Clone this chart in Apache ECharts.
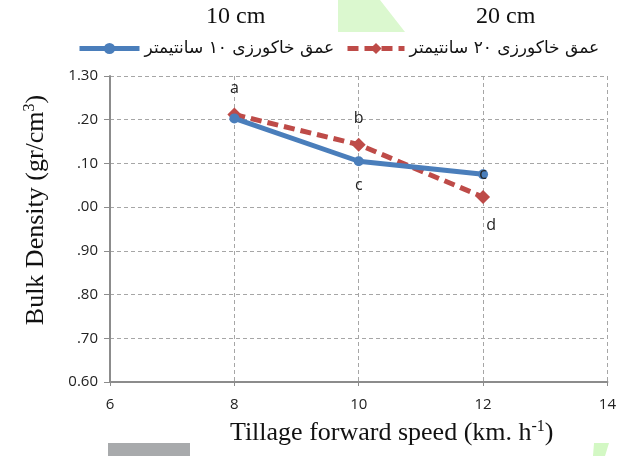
<!DOCTYPE html>
<html>
<head>
<meta charset="utf-8">
<script src="https://cdn.jsdelivr.net/npm/echarts@6/dist/echarts.min.js"></script>
<style>
  html, body { margin: 0; padding: 0; background: #fff; }
  #myChart { width: 619px; height: 456px; }
</style>
</head>
<body>
<div id="myChart"></div>
<script>
// speeds (km/h)
var speeds = [8, 10, 12];
// bulk density, depth 10 cm and 20 cm
var depth10 = [1.203, 1.105, 1.075];
var depth20 = [1.212, 1.143, 1.023];
// letters of the mean comparison
var letters10 = ["", "c", "c"];
var letters20 = ["a", "b", "d"];
var seriesNames = ["عمق خاکورزی ۱۰ سانتیمتر", "عمق خاکورزی ۲۰ سانتیمتر"];
// y tick labels as printed (cut off in the source)
var yTicks = [0.6, 0.7, 0.8, 0.9, 1.0, 1.1, 1.2, 1.3];
var yTickLabels = ["0.60", ".70", ".80", ".90", ".00", ".10", ".20", "1.30"];

var labelPos10 = [null, "bottom", "inside"];
var labelPos20 = ["top", "top", "bottom"];
var labelOff20 = [[0, -6], [0, -6], [8, 8]];
var labelOff10 = [[0, 0], [0, 6], [0, 0]];

function points(vals, letters, pos, off) {
  return vals.map(function (v, i) {
    return {
      value: [speeds[i], v],
      label: {
        show: letters[i] !== "",
        formatter: letters[i],
        position: pos[i] || "top",
        offset: off[i]
      }
    };
  });
}

var myChart = echarts.init(document.getElementById("myChart"));
var labelFont = { color: "#222", fontSize: 15, fontFamily: "Open Sans" };
var legendText = { fontSize: 17, color: "#111", fontFamily: "DejaVu Sans" };
var titleRich = {
  a: { fontSize: 26, fontFamily: "Liberation Serif", color: "#111" },
  s: { fontSize: 16, fontFamily: "Liberation Serif", color: "#111", verticalAlign: "top", padding: [0, 0, 12, 0] }
};

myChart.setOption({
  animation: false,
  grid: { left: 110, right: 11, top: 76, bottom: 74 },
  legend: [
    { left: 72, top: 35, itemWidth: 60, itemHeight: 14, textStyle: legendText,
      lineStyle: { width: 5 }, data: [seriesNames[0]] },
    { left: 340, top: 35, itemWidth: 57, itemHeight: 14, textStyle: legendText,
      lineStyle: { width: 5 }, data: [seriesNames[1]] }
  ],
  graphic: [
    { type: "polygon", shape: { points: [[338, 0], [380, 0], [405, 32], [338, 32]] }, style: { fill: "#dbf8cf" }, z: -1 },
    { type: "rect", shape: { x: 108, y: 443, width: 82, height: 13 }, style: { fill: "#a8aaac" } },
    { type: "polygon", shape: { points: [[594, 443], [609, 443], [605, 456], [593, 456]] }, style: { fill: "#d3f8c4" } },
    { type: "text", left: 206, top: 5, style: { text: "10 cm", font: "24px 'Liberation Serif'", fill: "#111" } },
    { type: "text", left: 476, top: 5, style: { text: "20 cm", font: "24px 'Liberation Serif'", fill: "#111" } }
  ],
  xAxis: {
    type: "value",
    min: 6,
    max: 14,
    interval: 2,
    name: "{a|Tillage forward speed (km. h}{s|-1}{a|)}",
    nameLocation: "middle",
    nameGap: 37,
    nameTextStyle: { padding: [0, 0, 0, 66], rich: titleRich },
    axisLine: { lineStyle: { color: "#8c8c8c", width: 2 } },
    axisTick: { show: true, inside: false, length: 4, lineStyle: { color: "#8c8c8c" } },
    axisLabel: Object.assign({ margin: 15 }, labelFont),
    splitLine: { show: true, lineStyle: { color: "#a6a6a6", type: [4, 3] } }
  },
  yAxis: {
    type: "value",
    min: 0.6,
    max: 1.3,
    interval: 0.1,
    name: "{a|Bulk Density (gr/cm}{s|3}{a|)}",
    nameLocation: "middle",
    nameRotate: 90,
    nameGap: 60,
    nameTextStyle: { padding: [0, 0, 0, 38], rich: titleRich },
    axisLine: { show: true, lineStyle: { color: "#8c8c8c", width: 2 } },
    axisTick: { show: true, length: 6, lineStyle: { color: "#8c8c8c" } },
    axisLabel: Object.assign({
      margin: 12,
      formatter: function (v) {
        var i = yTicks.findIndex(function (t) { return Math.abs(t - v) < 1e-6; });
        return i >= 0 ? yTickLabels[i] : "";
      }
    }, labelFont),
    splitLine: { show: true, lineStyle: { color: "#a6a6a6", type: [4, 3] } }
  },
  series: [
    {
      name: seriesNames[0],
      type: "line",
      data: points(depth10, letters10, labelPos10, labelOff10),
      symbol: "circle",
      symbolSize: 10,
      lineStyle: { color: "#4a7ebb", width: 5 },
      itemStyle: { color: "#4a7ebb" },
      label: { color: "#222", fontSize: 16, fontFamily: "Open Sans" },
      z: 3
    },
    {
      name: seriesNames[1],
      type: "line",
      data: points(depth20, letters20, labelPos20, labelOff20),
      symbol: "diamond",
      symbolSize: 14,
      lineStyle: { color: "#be4b48", width: 5, type: [11, 6] },
      itemStyle: { color: "#be4b48" },
      label: { color: "#222", fontSize: 16, fontFamily: "Open Sans" },
      z: 2
    }
  ]
});
</script>
</body>
</html>
